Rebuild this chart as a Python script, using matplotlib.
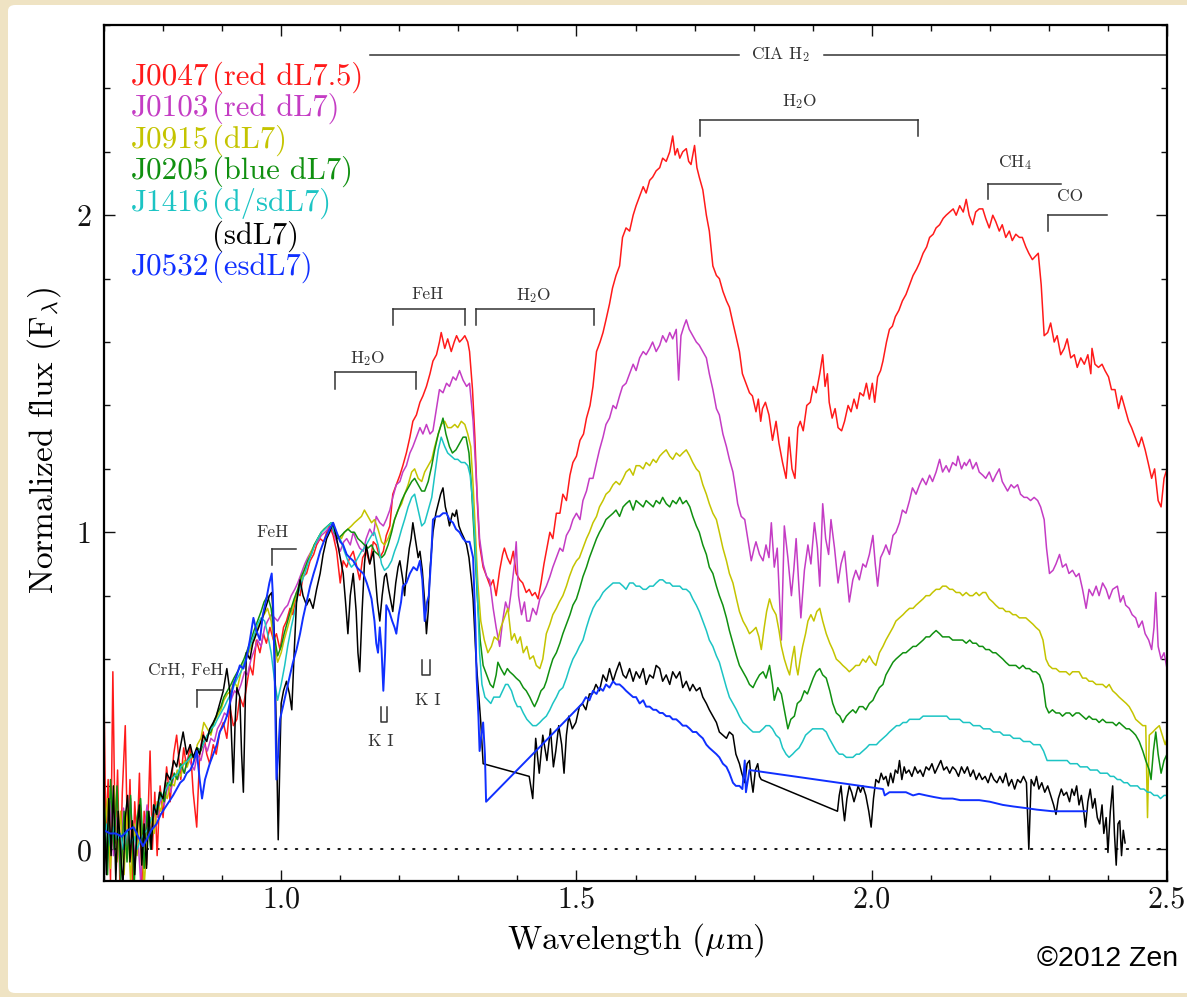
import matplotlib
matplotlib.use("Agg")
import matplotlib.pyplot as plt
from matplotlib.ticker import MultipleLocator, FixedLocator, FixedFormatter
from matplotlib.patches import FancyBboxPatch

plt.rcParams['font.family'] = 'serif'
plt.rcParams['font.serif'] = ['cmr10', 'DejaVu Serif']
plt.rcParams['mathtext.fontset'] = 'cm'
plt.rcParams['axes.unicode_minus'] = False
plt.rcParams['axes.formatter.use_mathtext'] = True

# ---------------- data (wavelength um, normalized flux) ----------------
j0047 = [(0.700,0.49),(0.703,0.05),(0.707,0.22),(0.711,-0.10),(0.715,0.56),(0.719,0.02),(0.723,0.25),(0.727,-0.12),
(0.731,0.18),(0.736,0.39),(0.740,0.00),(0.744,0.22),(0.748,-0.10),(0.752,0.15),(0.756,0.03),(0.760,0.24),(0.764,-0.12),
(0.768,0.12),(0.772,-0.05),(0.778,0.31),(0.782,0.00),(0.786,0.18),(0.790,-0.02),(0.795,0.20),(0.800,0.10),
(0.806,0.26),(0.812,0.15),(0.818,0.30),(0.823,0.36),(0.830,0.22),(0.835,0.32),
(0.840,0.26),(0.846,0.33),(0.851,0.18),(0.857,0.07),(0.862,0.30),(0.868,0.37),(0.874,0.30),(0.879,0.27),(0.885,0.33),
(0.890,0.30),(0.896,0.37),(0.902,0.40),(0.908,0.35),(0.913,0.45),(0.919,0.39),(0.925,0.41),(0.930,0.48),(0.936,0.45),
(0.941,0.51),(0.947,0.58),(0.952,0.55),(0.958,0.66),(0.964,0.62),(0.970,0.68),(0.975,0.65),(0.981,0.70),(0.987,0.66),
(0.992,0.68),(0.998,0.63),(1.004,0.70),(1.009,0.72),(1.015,0.76),(1.020,0.74),(1.026,0.81),(1.032,0.80),(1.037,0.86),
(1.043,0.87),(1.049,0.91),(1.055,0.93),(1.060,0.96),(1.066,0.98),(1.072,0.97),(1.077,1.00),(1.082,1.02),(1.088,0.99),
(1.094,0.94),(1.100,0.84),(1.105,0.91),(1.111,0.89),(1.116,0.92),(1.122,0.94),(1.127,0.90),(1.133,0.85),(1.138,0.92),
(1.144,0.94),(1.150,0.90),(1.156,0.97),(1.161,0.96),(1.167,0.92),(1.173,0.94),(1.178,0.99),(1.184,1.02),(1.189,1.12),
(1.195,1.15),(1.201,1.18),(1.206,1.21),(1.212,1.25),(1.218,1.30),(1.223,1.35),(1.229,1.37),(1.235,1.41),(1.240,1.43),
(1.246,1.46),(1.252,1.50),(1.257,1.54),(1.263,1.56),(1.268,1.60),(1.271,1.63),(1.277,1.58),(1.282,1.61),(1.288,1.57),
(1.293,1.60),(1.297,1.62),(1.302,1.60),(1.307,1.61),(1.311,1.62),(1.316,1.60),(1.319,1.57),(1.324,1.45),(1.328,1.30),
(1.332,1.10),(1.336,0.96),(1.342,0.89),(1.348,0.86),(1.354,0.83),(1.359,0.85),(1.364,0.80),(1.370,0.88),(1.375,0.93),
(1.378,0.95),(1.383,0.92),(1.388,0.90),(1.393,0.94),(1.398,0.87),(1.404,0.85),(1.409,0.84),(1.415,0.81),(1.420,0.82),
(1.425,0.80),(1.430,0.81),(1.435,0.79),(1.440,0.84),(1.445,0.90),(1.450,0.95),(1.455,1.00),(1.460,0.98),(1.466,1.06),
(1.472,1.06),(1.477,1.12),(1.483,1.10),(1.489,1.18),(1.494,1.22),(1.500,1.24),(1.506,1.29),(1.512,1.31),(1.517,1.36),
(1.523,1.40),(1.528,1.46),(1.534,1.57),(1.540,1.60),(1.545,1.63),(1.550,1.67),(1.556,1.72),(1.561,1.77),(1.567,1.81),
(1.573,1.84),(1.578,1.93),(1.584,1.96),(1.590,1.95),(1.596,2.00),(1.601,2.03),(1.607,2.06),(1.613,2.09),(1.618,2.07),
(1.624,2.11),(1.629,2.12),(1.635,2.14),(1.641,2.15),(1.646,2.18),(1.652,2.17),(1.658,2.20),(1.663,2.25),(1.667,2.19),
(1.671,2.21),(1.675,2.18),(1.680,2.20),(1.686,2.21),(1.690,2.17),(1.694,2.16),(1.700,2.22),(1.704,2.15),(1.708,2.12),
(1.714,2.08),(1.720,2.00),(1.725,1.95),(1.731,1.84),(1.737,1.81),(1.742,1.80),(1.748,1.76),(1.754,1.73),(1.759,1.71),
(1.765,1.66),(1.770,1.62),(1.776,1.57),(1.781,1.50),(1.787,1.47),(1.793,1.44),(1.798,1.43),(1.804,1.38),(1.808,1.42),
(1.812,1.35),(1.815,1.39),(1.820,1.41),(1.826,1.37),(1.832,1.29),(1.838,1.35),(1.843,1.28),(1.849,1.22),(1.855,1.17),
(1.860,1.30),(1.865,1.20),(1.870,1.17),(1.875,1.33),(1.879,1.35),(1.884,1.32),(1.890,1.40),(1.896,1.41),(1.901,1.46),
(1.906,1.44),(1.912,1.50),(1.917,1.56),(1.921,1.46),(1.925,1.50),(1.928,1.41),(1.933,1.36),(1.938,1.39),(1.943,1.33),
(1.949,1.32),(1.954,1.35),(1.960,1.40),(1.965,1.38),(1.970,1.42),(1.975,1.39),(1.980,1.44),(1.986,1.43),(1.991,1.47),
(1.996,1.42),(2.001,1.47),(2.005,1.41),(2.010,1.49),(2.015,1.51),(2.019,1.54),(2.025,1.60),(2.030,1.64),(2.035,1.65),
(2.040,1.68),(2.046,1.70),(2.052,1.73),(2.058,1.75),(2.064,1.78),(2.070,1.81),(2.076,1.83),(2.081,1.85),(2.087,1.88),
(2.093,1.90),(2.098,1.93),(2.104,1.94),(2.109,1.96),(2.115,1.97),(2.121,1.99),(2.126,2.00),(2.132,2.01),(2.138,2.02),
(2.143,2.00),(2.149,2.03),(2.155,2.01),(2.160,2.05),(2.165,2.00),(2.171,1.97),(2.176,2.01),(2.182,2.02),(2.188,2.02),
(2.193,1.99),(2.199,1.96),(2.205,2.00),(2.210,1.98),(2.216,1.95),(2.221,1.97),(2.227,1.93),(2.233,1.95),(2.238,1.92),
(2.244,1.94),(2.250,1.93),(2.255,1.93),(2.261,1.90),(2.266,1.88),(2.272,1.86),(2.277,1.87),(2.282,1.88),(2.287,1.78),
(2.292,1.62),(2.298,1.63),(2.303,1.66),(2.309,1.60),(2.314,1.62),(2.320,1.56),(2.326,1.58),(2.331,1.61),(2.337,1.55),
(2.343,1.56),(2.348,1.52),(2.354,1.55),(2.360,1.53),(2.366,1.56),(2.371,1.50),(2.373,1.58),(2.378,1.53),(2.384,1.52),
(2.390,1.53),(2.395,1.51),(2.401,1.49),(2.406,1.45),(2.412,1.45),(2.418,1.39),(2.423,1.43),(2.429,1.39),(2.435,1.35),
(2.440,1.33),(2.446,1.30),(2.452,1.27),(2.457,1.30),(2.463,1.26),(2.468,1.22),(2.474,1.17),(2.479,1.20),(2.485,1.10),
(2.490,1.08),(2.495,1.17),(2.500,1.20)]

j0103 = [(0.700,0.12),(0.705,-0.06),(0.711,0.15),(0.716,-0.02),(0.722,0.10),(0.728,-0.08),(0.733,0.13),(0.739,0.01),
(0.745,0.16),(0.750,-0.05),(0.756,0.08),(0.762,-0.10),(0.768,0.06),(0.773,0.14),(0.779,0.02),(0.785,0.13),(0.790,0.10),
(0.796,0.16),(0.802,0.14),(0.808,0.20),(0.813,0.18),(0.819,0.24),(0.825,0.22),(0.830,0.26),(0.836,0.24),(0.842,0.29),
(0.847,0.27),(0.853,0.25),(0.858,0.30),(0.864,0.28),(0.870,0.33),(0.875,0.31),(0.881,0.35),(0.887,0.34),(0.892,0.38),
(0.898,0.40),(0.904,0.43),(0.909,0.42),(0.915,0.47),(0.921,0.50),(0.926,0.49),(0.932,0.52),(0.938,0.56),(0.943,0.55),
(0.949,0.60),(0.955,0.63),(0.960,0.66),(0.966,0.64),(0.972,0.70),(0.977,0.72),(0.983,0.74),(0.989,0.73),(0.994,0.72),
(1.000,0.74),(1.006,0.76),(1.011,0.77),(1.017,0.80),(1.023,0.82),(1.028,0.84),(1.034,0.87),(1.040,0.90),(1.045,0.92),
(1.051,0.94),(1.057,0.96),(1.062,0.97),(1.068,0.99),(1.074,1.00),(1.079,1.01),(1.085,1.02),(1.090,0.99),(1.096,0.96),
(1.100,0.94),(1.106,0.97),(1.111,0.98),(1.117,0.96),(1.122,1.00),(1.128,0.97),(1.133,0.95),(1.139,0.94),(1.144,0.98),
(1.150,1.01),(1.156,0.99),(1.161,1.05),(1.167,1.03),(1.173,1.02),(1.178,1.04),(1.184,1.07),(1.189,1.11),(1.195,1.15),
(1.201,1.16),(1.206,1.19),(1.212,1.21),(1.218,1.25),(1.223,1.27),(1.229,1.30),(1.235,1.33),(1.240,1.31),(1.246,1.34),
(1.252,1.31),(1.257,1.32),(1.263,1.39),(1.268,1.45),(1.274,1.44),(1.280,1.47),(1.285,1.46),(1.291,1.49),(1.296,1.48),
(1.302,1.51),(1.308,1.48),(1.314,1.46),(1.319,1.47),(1.325,1.35),(1.331,1.15),(1.336,0.98),(1.342,0.90),(1.348,0.86),
(1.353,0.85),(1.359,0.76),(1.364,0.70),(1.370,0.64),(1.375,0.72),(1.380,0.78),(1.385,0.75),(1.390,0.82),(1.395,0.90),
(1.398,0.97),(1.402,0.80),(1.407,0.74),(1.412,0.78),(1.416,0.72),(1.421,0.72),(1.426,0.76),(1.432,0.74),(1.438,0.79),
(1.444,0.81),(1.449,0.83),(1.455,0.86),(1.460,0.89),(1.466,0.92),(1.472,0.95),(1.477,0.94),(1.483,0.99),(1.489,1.01),
(1.494,1.04),(1.500,1.06),(1.506,1.04),(1.511,1.10),(1.517,1.13),(1.522,1.17),(1.528,1.17),(1.534,1.22),(1.539,1.26),
(1.545,1.30),(1.550,1.34),(1.556,1.36),(1.562,1.40),(1.567,1.39),(1.573,1.43),(1.578,1.46),(1.584,1.47),(1.590,1.50),
(1.596,1.53),(1.601,1.51),(1.607,1.55),(1.613,1.57),(1.618,1.56),(1.624,1.58),(1.629,1.60),(1.635,1.57),(1.641,1.59),
(1.646,1.62),(1.652,1.60),(1.658,1.63),(1.663,1.61),(1.669,1.64),(1.673,1.48),(1.677,1.62),(1.682,1.65),(1.686,1.67),
(1.691,1.64),(1.697,1.62),(1.703,1.60),(1.708,1.59),(1.714,1.57),(1.720,1.55),(1.725,1.50),(1.731,1.45),(1.737,1.39),
(1.742,1.37),(1.748,1.31),(1.754,1.27),(1.759,1.23),(1.765,1.19),(1.770,1.13),(1.773,1.09),(1.779,1.05),(1.785,1.04),
(1.790,0.98),(1.796,0.91),(1.801,0.95),(1.804,0.97),(1.810,0.93),(1.816,0.91),(1.821,0.96),(1.826,0.92),(1.830,1.03),
(1.835,0.89),(1.840,0.95),(1.844,0.78),(1.847,0.66),(1.852,1.02),(1.858,0.92),(1.864,0.80),(1.868,0.88),(1.872,0.98),
(1.876,0.85),(1.880,0.73),(1.886,0.88),(1.892,0.96),(1.897,0.90),(1.903,1.03),(1.908,0.95),(1.912,0.83),(1.917,1.09),
(1.922,0.98),(1.927,0.93),(1.931,1.04),(1.937,0.95),(1.943,0.84),(1.948,0.90),(1.954,0.94),(1.958,0.86),(1.962,0.78),
(1.968,0.85),(1.973,0.88),(1.979,0.85),(1.985,0.90),(1.990,0.89),(1.996,0.93),(2.002,0.99),(2.006,0.90),(2.010,0.83),
(2.015,0.92),(2.020,0.94),(2.024,0.96),(2.030,0.93),(2.036,0.99),(2.041,1.00),(2.047,1.03),(2.052,1.07),(2.058,1.06),
(2.064,1.10),(2.069,1.14),(2.075,1.12),(2.081,1.15),(2.086,1.17),(2.092,1.15),(2.098,1.18),(2.103,1.16),(2.109,1.19),
(2.115,1.23),(2.120,1.19),(2.126,1.21),(2.131,1.19),(2.137,1.22),(2.143,1.21),(2.146,1.24),(2.152,1.20),(2.157,1.22),
(2.160,1.21),(2.166,1.23),(2.171,1.20),(2.177,1.22),(2.182,1.19),(2.188,1.18),(2.193,1.17),(2.199,1.19),(2.205,1.16),
(2.210,1.18),(2.216,1.20),(2.221,1.16),(2.227,1.14),(2.230,1.13),(2.236,1.15),(2.241,1.14),(2.247,1.15),(2.252,1.12),
(2.258,1.11),(2.263,1.11),(2.269,1.10),(2.275,1.11),(2.281,1.10),(2.286,1.08),(2.292,1.04),(2.296,0.95),(2.301,0.87),
(2.307,0.88),(2.312,0.90),(2.318,0.93),(2.323,0.89),(2.329,0.90),(2.334,0.87),(2.340,0.88),(2.346,0.86),(2.351,0.87),
(2.357,0.82),(2.363,0.76),(2.368,0.82),(2.374,0.80),(2.380,0.83),(2.385,0.80),(2.391,0.84),(2.397,0.82),(2.402,0.79),
(2.408,0.82),(2.416,0.83),(2.421,0.78),(2.426,0.80),(2.430,0.77),(2.436,0.76),(2.441,0.74),(2.447,0.73),(2.452,0.70),
(2.458,0.72),(2.463,0.68),(2.469,0.66),(2.474,0.63),(2.478,0.70),(2.481,0.81),(2.485,0.64),(2.490,0.60),(2.495,0.62),
(2.500,0.57)]

j0915 = [(0.700,0.02),(0.706,0.16),(0.711,-0.06),(0.717,0.20),(0.722,-0.04),(0.728,0.12),(0.734,-0.08),(0.739,0.14),
(0.745,-0.10),(0.751,0.08),(0.756,-0.02),(0.762,0.13),(0.768,-0.12),(0.773,0.04),(0.779,0.10),(0.785,0.05),(0.790,0.15),
(0.796,0.12),(0.802,0.18),(0.807,0.16),(0.813,0.21),(0.819,0.20),(0.824,0.25),(0.830,0.23),(0.836,0.28),(0.841,0.26),
(0.847,0.30),(0.853,0.28),(0.858,0.33),(0.864,0.35),(0.869,0.40),(0.875,0.38),(0.881,0.36),(0.886,0.40),(0.892,0.42),
(0.898,0.44),(0.903,0.47),(0.909,0.49),(0.915,0.50),(0.920,0.53),(0.926,0.51),(0.932,0.56),(0.937,0.59),(0.943,0.61),
(0.949,0.64),(0.954,0.66),(0.960,0.70),(0.966,0.72),(0.971,0.74),(0.977,0.76),(0.983,0.72),(0.988,0.65),(0.994,0.59),
(1.000,0.62),(1.005,0.66),(1.011,0.70),(1.017,0.74),(1.022,0.78),(1.028,0.81),(1.034,0.85),(1.039,0.88),(1.045,0.91),
(1.051,0.94),(1.056,0.96),(1.062,0.98),(1.068,1.00),(1.073,1.01),(1.079,1.02),(1.085,1.03),(1.090,1.01),(1.096,0.99),
(1.102,0.98),(1.107,1.00),(1.113,1.01),(1.119,1.02),(1.124,1.03),(1.130,1.04),(1.136,1.05),(1.141,1.07),(1.147,1.05),
(1.153,1.03),(1.158,1.04),(1.164,1.01),(1.170,0.97),(1.175,0.96),(1.181,0.98),(1.187,1.01),(1.192,1.04),(1.198,1.07),
(1.204,1.09),(1.209,1.12),(1.215,1.15),(1.221,1.19),(1.226,1.20),(1.232,1.17),(1.238,1.16),(1.243,1.19),(1.249,1.21),
(1.255,1.23),(1.260,1.27),(1.266,1.31),(1.271,1.34),(1.277,1.35),(1.282,1.33),(1.288,1.33),(1.294,1.34),(1.299,1.33),
(1.305,1.35),(1.311,1.34),(1.316,1.31),(1.321,1.27),(1.325,1.15),(1.329,1.00),(1.333,0.84),(1.338,0.72),(1.344,0.66),
(1.350,0.62),(1.356,0.64),(1.361,0.67),(1.367,0.66),(1.372,0.70),(1.378,0.73),(1.384,0.76),(1.387,0.71),(1.390,0.66),
(1.395,0.68),(1.400,0.65),(1.405,0.67),(1.410,0.62),(1.416,0.64),(1.421,0.60),(1.427,0.61),(1.432,0.58),(1.438,0.57),
(1.443,0.60),(1.449,0.68),(1.455,0.71),(1.460,0.74),(1.466,0.76),(1.471,0.78),(1.477,0.80),(1.483,0.83),(1.488,0.86),
(1.494,0.89),(1.500,0.91),(1.505,0.92),(1.511,0.95),(1.517,0.98),(1.522,1.00),(1.528,1.03),(1.534,1.05),(1.539,1.08),
(1.545,1.10),(1.550,1.12),(1.556,1.13),(1.562,1.15),(1.567,1.16),(1.573,1.15),(1.579,1.17),(1.584,1.19),(1.590,1.20),
(1.596,1.18),(1.601,1.21),(1.607,1.21),(1.613,1.20),(1.618,1.22),(1.624,1.21),(1.630,1.23),(1.635,1.22),(1.641,1.24),
(1.646,1.25),(1.652,1.26),(1.658,1.24),(1.663,1.23),(1.669,1.25),(1.675,1.24),(1.680,1.25),(1.686,1.26),(1.692,1.24),
(1.697,1.22),(1.703,1.20),(1.708,1.19),(1.714,1.15),(1.720,1.12),(1.725,1.09),(1.731,1.06),(1.737,1.04),(1.742,1.00),
(1.748,0.95),(1.754,0.91),(1.759,0.87),(1.765,0.84),(1.771,0.79),(1.776,0.75),(1.782,0.72),(1.788,0.70),(1.793,0.68),
(1.799,0.69),(1.804,0.70),(1.809,0.67),(1.813,0.63),(1.818,0.70),(1.822,0.75),(1.827,0.79),(1.832,0.76),(1.838,0.74),
(1.843,0.69),(1.847,0.64),(1.852,0.60),(1.857,0.57),(1.861,0.55),(1.865,0.60),(1.869,0.64),(1.872,0.58),(1.875,0.55),
(1.879,0.60),(1.883,0.64),(1.888,0.68),(1.892,0.72),(1.897,0.74),(1.902,0.72),(1.907,0.75),(1.912,0.76),(1.917,0.72),
(1.923,0.68),(1.929,0.65),(1.934,0.63),(1.940,0.60),(1.946,0.59),(1.951,0.58),(1.957,0.57),(1.962,0.56),(1.968,0.57),
(1.973,0.58),(1.979,0.58),(1.985,0.60),(1.990,0.59),(1.996,0.61),(2.002,0.59),(2.007,0.58),(2.013,0.62),(2.019,0.64),
(2.024,0.66),(2.030,0.68),(2.036,0.70),(2.041,0.72),(2.047,0.73),(2.053,0.74),(2.058,0.75),(2.064,0.76),(2.070,0.76),
(2.075,0.77),(2.081,0.78),(2.087,0.79),(2.092,0.80),(2.098,0.80),(2.103,0.81),(2.109,0.82),(2.115,0.82),(2.120,0.83),
(2.126,0.83),(2.132,0.82),(2.137,0.82),(2.143,0.81),(2.149,0.81),(2.154,0.80),(2.160,0.81),(2.166,0.80),(2.171,0.80),
(2.177,0.81),(2.182,0.80),(2.188,0.81),(2.193,0.81),(2.199,0.79),(2.205,0.78),(2.210,0.77),(2.216,0.76),(2.222,0.76),
(2.227,0.75),(2.233,0.75),(2.239,0.74),(2.244,0.74),(2.250,0.73),(2.256,0.73),(2.261,0.73),(2.267,0.72),(2.273,0.71),
(2.278,0.70),(2.284,0.69),(2.290,0.66),(2.295,0.60),(2.300,0.58),(2.306,0.57),(2.312,0.57),(2.318,0.56),(2.323,0.56),
(2.329,0.56),(2.335,0.55),(2.340,0.56),(2.346,0.56),(2.351,0.56),(2.357,0.54),(2.363,0.54),(2.368,0.53),(2.374,0.53),
(2.380,0.52),(2.385,0.52),(2.391,0.52),(2.397,0.51),(2.402,0.52),(2.408,0.50),(2.414,0.49),(2.419,0.48),(2.425,0.47),
(2.431,0.46),(2.436,0.45),(2.442,0.43),(2.447,0.41),(2.453,0.40),(2.459,0.39),(2.464,0.39),(2.467,0.10),(2.470,0.36),
(2.476,0.37),(2.481,0.38),(2.487,0.39),(2.492,0.36),(2.497,0.33),(2.500,0.35)]

j0205 = [(0.700,0.18),(0.706,-0.08),(0.711,0.22),(0.717,0.00),(0.722,0.20),(0.728,-0.10),(0.734,0.12),(0.739,-0.04),
(0.745,0.17),(0.751,-0.12),(0.756,0.10),(0.762,0.16),(0.768,-0.06),(0.773,0.12),(0.779,0.00),(0.785,0.14),(0.790,0.11),
(0.796,0.18),(0.802,0.15),(0.807,0.21),(0.813,0.20),(0.819,0.24),(0.824,0.22),(0.830,0.27),(0.836,0.24),(0.841,0.28),
(0.847,0.30),(0.853,0.29),(0.858,0.32),(0.864,0.31),(0.869,0.34),(0.875,0.36),(0.881,0.37),(0.886,0.40),(0.892,0.43),
(0.898,0.45),(0.903,0.48),(0.909,0.50),(0.915,0.52),(0.920,0.54),(0.926,0.56),(0.932,0.58),(0.937,0.60),(0.943,0.63),
(0.949,0.66),(0.954,0.69),(0.960,0.72),(0.966,0.75),(0.971,0.78),(0.977,0.80),(0.983,0.76),(0.988,0.68),(0.994,0.61),
(1.000,0.64),(1.005,0.68),(1.011,0.72),(1.017,0.76),(1.022,0.79),(1.028,0.82),(1.034,0.86),(1.039,0.88),(1.045,0.91),
(1.051,0.93),(1.056,0.96),(1.062,0.98),(1.068,1.00),(1.073,1.01),(1.079,1.02),(1.085,1.03),(1.090,1.00),(1.096,0.98),
(1.102,0.99),(1.107,1.00),(1.113,1.01),(1.119,1.00),(1.124,1.00),(1.130,0.98),(1.136,0.97),(1.141,0.96),(1.147,0.95),
(1.153,0.96),(1.158,0.94),(1.164,0.93),(1.170,0.92),(1.175,0.93),(1.181,0.96),(1.187,1.00),(1.192,1.04),(1.198,1.07),
(1.204,1.10),(1.209,1.12),(1.215,1.14),(1.221,1.16),(1.226,1.17),(1.232,1.15),(1.238,1.13),(1.243,1.13),(1.249,1.16),
(1.255,1.21),(1.260,1.26),(1.266,1.31),(1.271,1.34),(1.274,1.36),(1.279,1.31),(1.285,1.27),(1.290,1.25),(1.296,1.26),
(1.302,1.28),(1.308,1.30),(1.313,1.30),(1.318,1.25),(1.322,1.15),(1.327,0.98),(1.332,0.80),(1.337,0.66),(1.342,0.58),
(1.348,0.55),(1.354,0.52),(1.359,0.51),(1.364,0.55),(1.367,0.59),(1.372,0.57),(1.378,0.55),(1.383,0.57),(1.387,0.56),
(1.393,0.55),(1.398,0.54),(1.404,0.53),(1.410,0.51),(1.415,0.50),(1.421,0.48),(1.426,0.46),(1.429,0.45),(1.434,0.47),
(1.440,0.50),(1.445,0.51),(1.449,0.53),(1.455,0.57),(1.460,0.60),(1.466,0.62),(1.472,0.65),(1.477,0.68),(1.483,0.71),
(1.489,0.74),(1.494,0.77),(1.500,0.79),(1.505,0.82),(1.511,0.86),(1.517,0.89),(1.522,0.92),(1.528,0.95),(1.534,0.98),
(1.539,1.00),(1.545,1.02),(1.550,1.04),(1.556,1.05),(1.562,1.06),(1.567,1.07),(1.573,1.05),(1.579,1.08),(1.584,1.09),
(1.590,1.10),(1.596,1.07),(1.601,1.10),(1.607,1.09),(1.613,1.08),(1.618,1.10),(1.624,1.09),(1.630,1.08),(1.635,1.10),
(1.641,1.09),(1.646,1.11),(1.652,1.09),(1.658,1.08),(1.663,1.10),(1.669,1.09),(1.675,1.11),(1.680,1.09),(1.686,1.10),
(1.692,1.08),(1.697,1.05),(1.703,1.02),(1.708,1.00),(1.714,0.96),(1.720,0.93),(1.725,0.89),(1.731,0.87),(1.737,0.83),
(1.742,0.80),(1.748,0.77),(1.754,0.73),(1.759,0.69),(1.765,0.65),(1.771,0.61),(1.776,0.58),(1.782,0.56),(1.788,0.54),
(1.793,0.52),(1.799,0.51),(1.804,0.53),(1.810,0.55),(1.816,0.56),(1.821,0.54),(1.827,0.58),(1.832,0.52),(1.835,0.47),
(1.841,0.51),(1.847,0.49),(1.852,0.44),(1.858,0.38),(1.863,0.41),(1.869,0.42),(1.874,0.46),(1.880,0.47),(1.886,0.50),
(1.891,0.49),(1.895,0.51),(1.901,0.54),(1.906,0.56),(1.912,0.57),(1.917,0.55),(1.923,0.54),(1.929,0.50),(1.934,0.46),
(1.940,0.43),(1.946,0.42),(1.951,0.40),(1.957,0.42),(1.962,0.43),(1.968,0.44),(1.973,0.43),(1.979,0.45),(1.985,0.45),
(1.990,0.44),(1.996,0.46),(2.002,0.47),(2.007,0.49),(2.013,0.51),(2.019,0.52),(2.024,0.55),(2.030,0.57),(2.036,0.59),
(2.041,0.60),(2.047,0.61),(2.053,0.62),(2.058,0.62),(2.064,0.63),(2.070,0.64),(2.075,0.64),(2.081,0.65),(2.087,0.66),
(2.092,0.67),(2.098,0.67),(2.103,0.68),(2.109,0.69),(2.115,0.68),(2.120,0.67),(2.126,0.67),(2.131,0.67),(2.137,0.66),
(2.143,0.66),(2.149,0.66),(2.154,0.66),(2.160,0.65),(2.166,0.66),(2.171,0.65),(2.177,0.65),(2.182,0.64),(2.188,0.64),
(2.193,0.63),(2.199,0.63),(2.205,0.62),(2.210,0.62),(2.216,0.61),(2.222,0.60),(2.227,0.59),(2.233,0.58),(2.239,0.58),
(2.244,0.58),(2.250,0.57),(2.256,0.58),(2.261,0.57),(2.267,0.57),(2.273,0.56),(2.278,0.56),(2.284,0.55),(2.290,0.52),
(2.295,0.45),(2.300,0.43),(2.306,0.44),(2.312,0.43),(2.318,0.43),(2.323,0.42),(2.329,0.43),(2.335,0.43),(2.340,0.42),
(2.346,0.43),(2.351,0.43),(2.357,0.42),(2.363,0.41),(2.368,0.42),(2.374,0.41),(2.380,0.41),(2.385,0.40),(2.391,0.41),
(2.397,0.40),(2.402,0.40),(2.408,0.40),(2.414,0.39),(2.419,0.40),(2.425,0.39),(2.431,0.38),(2.436,0.38),(2.442,0.37),
(2.447,0.36),(2.453,0.34),(2.459,0.31),(2.464,0.28),(2.470,0.25),(2.473,0.22),(2.477,0.31),(2.481,0.37),(2.485,0.30),
(2.490,0.24),(2.495,0.28),(2.500,0.30)]

j1416 = [(0.700,0.03),(0.705,0.08),(0.711,0.01),(0.716,0.07),(0.722,0.03),(0.728,0.05),(0.733,0.00),(0.739,0.06),
(0.745,0.02),(0.751,0.04),(0.756,0.00),(0.762,0.03),(0.768,0.05),(0.773,0.06),(0.779,0.09),(0.785,0.12),(0.790,0.14),
(0.796,0.16),(0.802,0.18),(0.808,0.20),(0.813,0.22),(0.819,0.23),(0.825,0.24),(0.830,0.26),(0.836,0.27),(0.842,0.28),
(0.847,0.29),(0.853,0.30),(0.858,0.30),(0.864,0.32),(0.870,0.34),(0.875,0.36),(0.881,0.38),(0.887,0.39),(0.892,0.41),
(0.898,0.43),(0.904,0.45),(0.909,0.47),(0.915,0.49),(0.921,0.52),(0.926,0.54),(0.932,0.56),(0.938,0.59),(0.943,0.62),
(0.949,0.65),(0.955,0.68),(0.960,0.71),(0.966,0.73),(0.972,0.72),(0.977,0.68),(0.983,0.62),(0.989,0.53),(0.994,0.47),
(1.000,0.52),(1.006,0.58),(1.011,0.64),(1.017,0.70),(1.023,0.75),(1.028,0.80),(1.034,0.84),(1.040,0.87),(1.045,0.90),
(1.051,0.93),(1.057,0.96),(1.062,0.98),(1.068,1.00),(1.074,1.01),(1.079,1.02),(1.085,1.03),(1.090,1.00),(1.096,0.99),
(1.102,0.97),(1.107,0.94),(1.113,0.91),(1.119,0.89),(1.124,0.90),(1.130,0.92),(1.136,0.94),(1.141,0.95),(1.147,0.97),
(1.153,0.99),(1.158,1.00),(1.164,0.96),(1.170,0.90),(1.175,0.88),(1.181,0.89),(1.187,0.91),(1.192,0.94),(1.198,0.97),
(1.204,1.01),(1.209,1.04),(1.215,1.08),(1.221,1.11),(1.226,1.12),(1.232,1.07),(1.238,1.02),(1.243,1.03),(1.249,1.07),
(1.255,1.11),(1.260,1.18),(1.266,1.26),(1.271,1.30),(1.277,1.27),(1.282,1.25),(1.288,1.24),(1.294,1.23),(1.299,1.23),
(1.305,1.22),(1.311,1.22),(1.316,1.21),(1.320,1.18),(1.324,1.10),(1.328,0.98),(1.332,0.82),(1.336,0.62),(1.340,0.52),
(1.345,0.48),(1.350,0.47),(1.355,0.46),(1.360,0.48),(1.365,0.48),(1.370,0.48),(1.375,0.50),(1.380,0.52),(1.384,0.52),
(1.390,0.50),(1.395,0.47),(1.400,0.45),(1.405,0.45),(1.410,0.43),(1.416,0.41),(1.421,0.40),(1.426,0.39),(1.432,0.39),
(1.438,0.40),(1.443,0.41),(1.449,0.42),(1.455,0.44),(1.460,0.46),(1.466,0.48),(1.471,0.50),(1.477,0.51),(1.483,0.54),
(1.488,0.57),(1.494,0.60),(1.500,0.62),(1.505,0.64),(1.511,0.66),(1.517,0.70),(1.522,0.73),(1.528,0.76),(1.534,0.78),
(1.539,0.79),(1.545,0.81),(1.550,0.82),(1.556,0.83),(1.562,0.84),(1.567,0.84),(1.573,0.84),(1.579,0.83),(1.584,0.82),
(1.590,0.84),(1.596,0.84),(1.601,0.83),(1.607,0.83),(1.613,0.82),(1.618,0.82),(1.624,0.83),(1.630,0.83),(1.635,0.84),
(1.641,0.85),(1.646,0.85),(1.652,0.84),(1.658,0.84),(1.663,0.83),(1.669,0.83),(1.675,0.83),(1.680,0.82),(1.686,0.82),
(1.692,0.81),(1.697,0.79),(1.703,0.77),(1.708,0.75),(1.714,0.72),(1.720,0.69),(1.725,0.66),(1.731,0.64),(1.737,0.61),
(1.742,0.59),(1.748,0.55),(1.754,0.51),(1.759,0.48),(1.765,0.46),(1.771,0.44),(1.776,0.42),(1.782,0.40),(1.788,0.39),
(1.793,0.38),(1.799,0.37),(1.804,0.37),(1.810,0.37),(1.816,0.38),(1.821,0.39),(1.827,0.39),(1.832,0.38),(1.838,0.36),
(1.844,0.35),(1.849,0.32),(1.855,0.30),(1.860,0.29),(1.866,0.30),(1.871,0.31),(1.877,0.32),(1.883,0.34),(1.888,0.36),
(1.894,0.37),(1.900,0.38),(1.906,0.38),(1.911,0.38),(1.917,0.38),(1.923,0.37),(1.928,0.35),(1.934,0.33),(1.940,0.31),
(1.945,0.30),(1.951,0.30),(1.957,0.29),(1.962,0.29),(1.968,0.29),(1.974,0.30),(1.979,0.30),(1.985,0.31),(1.991,0.32),
(1.996,0.33),(2.002,0.33),(2.008,0.33),(2.013,0.34),(2.019,0.35),(2.025,0.36),(2.030,0.37),(2.036,0.38),(2.042,0.39),
(2.047,0.39),(2.053,0.40),(2.059,0.40),(2.064,0.41),(2.070,0.41),(2.076,0.41),(2.081,0.41),(2.087,0.42),(2.093,0.42),
(2.098,0.42),(2.104,0.42),(2.110,0.42),(2.115,0.42),(2.121,0.42),(2.127,0.42),(2.132,0.41),(2.138,0.41),(2.144,0.41),
(2.149,0.41),(2.155,0.40),(2.161,0.40),(2.166,0.40),(2.172,0.39),(2.178,0.39),(2.183,0.39),(2.189,0.38),(2.195,0.38),
(2.200,0.38),(2.206,0.37),(2.212,0.37),(2.217,0.37),(2.223,0.36),(2.229,0.36),(2.234,0.36),(2.240,0.35),(2.246,0.35),
(2.251,0.35),(2.257,0.34),(2.263,0.34),(2.268,0.34),(2.274,0.33),(2.280,0.33),(2.285,0.33),(2.291,0.31),(2.297,0.28),
(2.302,0.28),(2.308,0.28),(2.314,0.28),(2.319,0.28),(2.325,0.28),(2.331,0.28),(2.336,0.27),(2.342,0.27),(2.348,0.27),
(2.353,0.26),(2.359,0.26),(2.365,0.26),(2.370,0.25),(2.376,0.25),(2.382,0.25),(2.387,0.24),(2.393,0.24),(2.399,0.24),
(2.404,0.23),(2.410,0.23),(2.416,0.22),(2.421,0.22),(2.427,0.21),(2.433,0.21),(2.438,0.20),(2.444,0.20),(2.450,0.20),
(2.455,0.19),(2.461,0.19),(2.467,0.18),(2.472,0.18),(2.478,0.17),(2.484,0.17),(2.489,0.16),(2.495,0.17),(2.500,0.17)]

sdl7 = [(0.700,0.14),(0.704,-0.08),(0.708,0.16),(0.712,-0.02),(0.716,0.20),(0.720,-0.10),(0.724,0.12),(0.728,0.00),
(0.732,-0.12),(0.736,0.10),(0.740,0.17),(0.744,-0.04),(0.748,0.09),(0.752,-0.08),(0.756,0.06),(0.760,0.14),(0.764,-0.05),
(0.768,0.08),(0.772,-0.06),(0.776,0.12),(0.780,0.00),(0.784,0.14),(0.789,0.11),(0.794,0.18),(0.800,0.16),(0.806,0.24),
(0.812,0.22),(0.818,0.28),(0.823,0.26),(0.828,0.31),(0.834,0.37),(0.840,0.30),(0.846,0.33),(0.851,0.29),(0.857,0.32),
(0.862,0.30),(0.868,0.36),(0.874,0.34),(0.879,0.38),(0.885,0.40),(0.890,0.42),(0.896,0.46),(0.902,0.50),(0.908,0.57),
(0.913,0.50),(0.916,0.35),(0.919,0.21),(0.922,0.40),(0.925,0.51),(0.930,0.48),(0.933,0.30),(0.936,0.18),(0.939,0.45),
(0.941,0.62),(0.947,0.60),(0.952,0.65),(0.958,0.68),(0.964,0.71),(0.970,0.74),(0.975,0.77),(0.980,0.80),(0.984,0.81),
(0.988,0.70),(0.992,0.35),(0.995,0.03),(0.998,0.30),(1.000,0.46),(1.004,0.50),(1.009,0.53),(1.014,0.49),(1.018,0.44),
(1.022,0.62),(1.026,0.78),(1.032,0.85),(1.037,0.80),(1.043,0.77),(1.048,0.79),(1.054,0.76),(1.060,0.82),(1.066,0.87),
(1.071,0.93),(1.077,0.98),(1.082,1.00),(1.088,1.03),(1.094,0.98),(1.100,0.92),(1.105,0.87),(1.109,0.78),(1.113,0.68),
(1.117,0.80),(1.122,0.87),(1.127,0.75),(1.130,0.62),(1.133,0.56),(1.137,0.75),(1.141,0.90),(1.144,0.96),(1.150,0.90),
(1.156,0.94),(1.160,0.85),(1.163,0.78),(1.167,0.72),(1.171,0.80),(1.175,0.86),(1.178,0.87),(1.182,0.82),(1.186,0.78),
(1.189,0.75),(1.194,0.84),(1.198,0.89),(1.201,0.91),(1.206,0.85),(1.209,0.80),(1.212,0.87),(1.217,0.95),(1.220,0.98),
(1.223,1.03),(1.228,0.97),(1.232,0.92),(1.235,0.94),(1.239,0.88),(1.243,0.78),(1.246,0.68),(1.249,0.75),(1.252,0.88),
(1.257,1.00),(1.262,1.06),(1.266,1.09),(1.270,1.12),(1.274,1.14),(1.278,1.08),(1.282,1.05),(1.285,1.02),(1.290,1.06),
(1.294,1.05),(1.297,1.07),(1.301,1.02),(1.305,1.00),(1.310,0.98),(1.314,0.96),(1.318,0.92),(1.322,0.85),(1.325,0.79),
(1.330,0.60),(1.334,0.50),(1.338,0.40),(1.342,0.27),(1.420,0.23),(1.426,0.16),(1.431,0.35),(1.437,0.24),(1.443,0.36),
(1.450,0.28),(1.456,0.38),(1.461,0.26),(1.465,0.31),(1.470,0.39),(1.475,0.33),(1.479,0.24),(1.483,0.36),(1.487,0.42),
(1.493,0.38),(1.499,0.40),(1.505,0.45),(1.510,0.46),(1.516,0.44),(1.522,0.49),(1.527,0.49),(1.533,0.52),(1.539,0.50),
(1.545,0.55),(1.551,0.53),(1.556,0.57),(1.562,0.53),(1.567,0.56),(1.573,0.59),(1.579,0.55),(1.584,0.54),(1.590,0.57),
(1.596,0.53),(1.601,0.56),(1.607,0.54),(1.613,0.57),(1.618,0.52),(1.624,0.55),(1.630,0.54),(1.635,0.58),(1.641,0.57),
(1.646,0.53),(1.652,0.55),(1.658,0.52),(1.663,0.56),(1.669,0.54),(1.675,0.56),(1.680,0.51),(1.686,0.53),(1.692,0.50),
(1.697,0.52),(1.703,0.50),(1.709,0.51),(1.714,0.48),(1.720,0.46),(1.725,0.44),(1.731,0.42),(1.737,0.40),(1.742,0.37),
(1.748,0.36),(1.754,0.35),(1.759,0.37),(1.765,0.36),(1.770,0.30),(1.776,0.27),(1.780,0.24),(1.785,0.21),(1.789,0.27),
(1.793,0.28),(1.796,0.22),(1.799,0.18),(1.803,0.25),(1.807,0.27),(1.810,0.23),(1.813,0.22),(1.942,0.12),(1.945,0.17),
(1.948,0.20),(1.951,0.14),(1.954,0.09),(1.958,0.16),(1.962,0.20),(1.966,0.18),(1.970,0.15),(1.973,0.17),(1.977,0.20),
(1.981,0.18),(1.985,0.20),(1.990,0.17),(1.995,0.12),(1.999,0.07),(2.003,0.16),(2.007,0.22),(2.012,0.21),(2.016,0.24),
(2.020,0.22),(2.024,0.23),(2.028,0.20),(2.032,0.24),(2.036,0.21),(2.040,0.25),(2.044,0.24),(2.047,0.28),(2.051,0.22),
(2.055,0.26),(2.058,0.24),(2.063,0.25),(2.068,0.23),(2.073,0.26),(2.078,0.24),(2.082,0.25),(2.087,0.23),(2.092,0.26),
(2.097,0.25),(2.102,0.27),(2.107,0.24),(2.112,0.26),(2.117,0.28),(2.122,0.25),(2.127,0.26),(2.132,0.24),(2.137,0.26),
(2.142,0.25),(2.147,0.23),(2.152,0.26),(2.157,0.24),(2.162,0.26),(2.167,0.23),(2.172,0.25),(2.177,0.22),(2.182,0.24),
(2.187,0.22),(2.192,0.23),(2.197,0.21),(2.202,0.24),(2.207,0.22),(2.212,0.21),(2.217,0.23),(2.222,0.21),(2.227,0.24),
(2.232,0.20),(2.237,0.22),(2.242,0.19),(2.247,0.22),(2.252,0.21),(2.257,0.23),(2.262,0.21),(2.266,0.00),(2.270,0.22),
(2.275,0.20),(2.279,0.23),(2.283,0.19),(2.288,0.21),(2.293,0.18),(2.298,0.20),(2.303,0.17),(2.308,0.14),(2.312,0.11),
(2.316,0.16),(2.321,0.19),(2.325,0.17),(2.330,0.18),(2.335,0.15),(2.339,0.19),(2.343,0.17),(2.347,0.20),(2.351,0.14),
(2.355,0.17),(2.359,0.12),(2.362,0.07),(2.366,0.15),(2.370,0.19),(2.374,0.13),(2.378,0.16),(2.382,0.10),(2.386,0.08),
(2.390,0.14),(2.393,0.05),(2.397,0.10),(2.400,-0.01),(2.404,0.12),(2.408,0.20),(2.411,0.05),(2.414,-0.05),(2.417,0.08),
(2.420,0.09),(2.423,-0.02),(2.426,0.06),(2.429,0.02)]

j0532 = [(0.700,0.06),(0.710,0.05),(0.720,0.05),(0.730,0.04),(0.740,0.06),(0.750,0.07),(0.758,0.04),(0.766,0.01),
(0.772,0.03),(0.780,0.06),(0.789,0.08),(0.796,0.11),(0.803,0.13),(0.810,0.15),(0.817,0.17),(0.823,0.19),(0.829,0.21),
(0.835,0.22),(0.840,0.24),(0.846,0.25),(0.851,0.27),(0.857,0.31),(0.862,0.22),(0.866,0.16),(0.871,0.22),(0.879,0.27),
(0.885,0.30),(0.891,0.33),(0.896,0.37),(0.902,0.39),(0.908,0.42),(0.913,0.46),(0.919,0.52),(0.925,0.55),(0.930,0.58),
(0.936,0.57),(0.941,0.60),(0.947,0.66),(0.953,0.73),(0.958,0.69),(0.964,0.66),(0.969,0.74),(0.975,0.79),(0.980,0.84),
(0.984,0.87),(0.986,0.80),(0.989,0.55),(0.992,0.22),(0.995,0.30),(0.998,0.41),(1.003,0.45),(1.009,0.50),(1.015,0.55),
(1.020,0.59),(1.026,0.63),(1.032,0.68),(1.037,0.73),(1.043,0.78),(1.049,0.83),(1.055,0.87),(1.060,0.90),(1.066,0.94),
(1.072,0.97),(1.077,0.99),(1.082,1.01),(1.088,1.03),(1.094,1.00),(1.100,0.97),(1.105,0.96),(1.111,0.93),(1.116,0.92),
(1.122,0.91),(1.128,0.89),(1.133,0.88),(1.139,0.87),(1.145,0.84),(1.150,0.81),(1.153,0.79),(1.158,0.72),(1.161,0.65),
(1.164,0.62),(1.167,0.70),(1.170,0.63),(1.173,0.50),(1.176,0.62),(1.178,0.77),(1.183,0.75),(1.188,0.72),(1.192,0.70),
(1.195,0.68),(1.199,0.74),(1.203,0.78),(1.206,0.83),(1.212,0.84),(1.218,0.87),(1.224,0.89),(1.230,0.88),(1.235,0.91),
(1.239,0.85),(1.243,0.72),(1.247,0.78),(1.250,0.80),(1.254,0.92),(1.257,1.04),(1.263,1.05),(1.268,1.05),(1.274,1.06),
(1.280,1.06),(1.285,1.04),(1.291,1.03),(1.296,1.01),(1.302,1.00),(1.308,0.98),(1.313,0.97),(1.319,0.97),(1.325,0.92),
(1.329,0.70),(1.331,0.54),(1.334,0.42),(1.336,0.31),(1.339,0.36),(1.342,0.40),(1.345,0.30),(1.347,0.15),(1.510,0.46),
(1.516,0.48),(1.522,0.47),(1.528,0.50),(1.534,0.49),(1.539,0.51),(1.545,0.50),(1.550,0.52),(1.556,0.51),(1.562,0.53),
(1.567,0.52),(1.573,0.52),(1.579,0.51),(1.584,0.50),(1.590,0.49),(1.596,0.48),(1.601,0.48),(1.607,0.46),(1.613,0.47),
(1.618,0.45),(1.624,0.45),(1.630,0.44),(1.635,0.44),(1.641,0.43),(1.646,0.43),(1.652,0.42),(1.658,0.42),(1.663,0.41),
(1.669,0.41),(1.675,0.40),(1.680,0.39),(1.686,0.39),(1.692,0.38),(1.697,0.37),(1.703,0.37),(1.708,0.36),(1.714,0.35),
(1.720,0.33),(1.725,0.32),(1.731,0.31),(1.737,0.30),(1.742,0.29),(1.748,0.27),(1.754,0.26),(1.759,0.24),(1.765,0.21),
(1.770,0.20),(1.776,0.20),(1.781,0.19),(1.785,0.28),(1.787,0.18),(1.793,0.25),(2.019,0.19),(2.022,0.17),(2.030,0.18),
(2.040,0.18),(2.050,0.18),(2.058,0.18),(2.070,0.17),(2.080,0.175),(2.092,0.17),(2.105,0.165),(2.120,0.16),(2.137,0.16),
(2.150,0.155),(2.165,0.155),(2.182,0.155),(2.200,0.15),(2.222,0.14),(2.240,0.135),(2.261,0.13),(2.280,0.125),
(2.306,0.12),(2.330,0.12),(2.350,0.12),(2.363,0.12)]

series = [j0047, j0103, j0915, j0205, j1416, sdl7, j0532]
names = ['J0047', 'J0103', 'J0915', 'J0205', 'J1416', '', 'J0532']
types = ['(red dL7.5)', '(red dL7)', '(dL7)', '(blue dL7)', '(d/sdL7)', '(sdL7)', '(esdL7)']
colors = ['#ff1a1a', '#c43cc4', '#c4c400', '#109010', '#1cc4c4', '#000000', '#1030ff']

x_ticks = [1.0, 1.5, 2.0, 2.5]
x_ticklabels = ['1.0', '1.5', '2.0', '2.5']
y_ticks = [0, 1, 2]
y_ticklabels = ['0', '1', '2']

# ---------------- figure ----------------
W, H = 1187, 997
fig = plt.figure(figsize=(W / 100, H / 100), dpi=100)
fig.patch.set_facecolor('#efe3c3')
panel = FancyBboxPatch((8 / W, 1 - 993 / H), 1.05, (993 - 5) / H,
                       boxstyle='round,pad=0,rounding_size=0.006',
                       transform=fig.transFigure, fc='white', ec='none', zorder=0)
fig.add_artist(panel)

ax = fig.add_axes([104 / W, 1 - 881 / H, (1167 - 104) / W, (881 - 25) / H])
ax.set_xlim(0.7, 2.5)
ax.set_ylim(-0.1, 2.6)

for s, c in zip(series, colors):
    wl, fx = zip(*s)
    lw = 1.4 if c == '#1030ff' else 1.1
    ax.plot(wl, fx, color=c, lw=lw, solid_joinstyle='round')

ax.axhline(0, color='k', lw=1.3, ls=(0, (0.9, 5.0)), dash_capstyle='round', zorder=1)

# ticks
ax.xaxis.set_major_locator(FixedLocator(x_ticks))
ax.xaxis.set_major_formatter(FixedFormatter(x_ticklabels))
ax.xaxis.set_minor_locator(MultipleLocator(0.1))
ax.yaxis.set_major_locator(FixedLocator(y_ticks))
ax.yaxis.set_major_formatter(FixedFormatter(y_ticklabels))
ax.yaxis.set_minor_locator(MultipleLocator(0.2))
ax.tick_params(which='both', direction='in', top=True, right=True, width=1.0, colors='#111111')
ax.tick_params(which='major', length=8)
ax.tick_params(which='minor', length=4.5)
ax.tick_params(axis='x', which='major', labelsize=21.5, pad=4)
ax.tick_params(axis='y', which='major', labelsize=21.5, pad=9)
for sp in ax.spines.values():
    sp.set_linewidth(1.6)

ax.set_xlabel(r'Wavelength ($\mu$m)', fontsize=24, va='center')
ax.xaxis.set_label_coords(0.5, (881 - 940) / 856)
ax.set_ylabel(r'Normalized flux (F$_\lambda$)', fontsize=24, va='center')
ax.yaxis.set_label_coords((44 - 104) / 1063, (881 - 440) / 856)

# ---------------- feature annotations ----------------
ac = '#333333'
alw = 1.1
afs = 12.5

def bracket(x0, x1, y, drop, left=True, right=True):
    ax.plot([x0, x1], [y, y], color=ac, lw=alw)
    if left:
        ax.plot([x0, x0], [y, y - drop], color=ac, lw=alw)
    if right:
        ax.plot([x1, x1], [y, y - drop], color=ac, lw=alw)

# CIA H2 line
ax.plot([1.15, 1.776], [2.506, 2.506], color=ac, lw=alw)
ax.plot([1.92, 2.5], [2.506, 2.506], color=ac, lw=alw)
ax.text(1.846, 2.506, r'CIA H$_2$', fontsize=afs, ha='center', va='center', color=ac)

bracket(1.71, 2.079, 2.30, 0.05)
ax.text(1.878, 2.36, r'H$_2$O', fontsize=afs, ha='center', va='center', color=ac)

bracket(2.197, 2.321, 2.10, 0.05, right=False)
ax.text(2.243, 2.165, r'CH$_4$', fontsize=afs, ha='center', va='center', color=ac)

bracket(2.299, 2.399, 2.00, 0.05, right=False)
ax.text(2.336, 2.06, 'CO', fontsize=afs, ha='center', va='center', color=ac)

bracket(1.33, 1.53, 1.705, 0.052)
ax.text(1.428, 1.748, r'H$_2$O', fontsize=afs, ha='center', va='center', color=ac)

bracket(1.189, 1.311, 1.705, 0.052)
ax.text(1.247, 1.752, 'FeH', fontsize=afs, ha='center', va='center', color=ac)

bracket(1.092, 1.229, 1.505, 0.053)
ax.text(1.147, 1.548, r'H$_2$O', fontsize=afs, ha='center', va='center', color=ac)

bracket(0.984, 1.025, 0.948, 0.05, right=False)
ax.text(0.985, 1.0, 'FeH', fontsize=afs, ha='center', va='center', color=ac)

bracket(0.858, 0.901, 0.503, 0.053, right=False)
ax.text(0.838, 0.566, 'CrH, FeH', fontsize=afs, ha='center', va='center', color=ac)

# K I doublets
ax.plot([1.169, 1.169, 1.180, 1.180], [0.45, 0.403, 0.403, 0.45], color=ac, lw=alw)
ax.text(1.168, 0.34, 'K I', fontsize=afs, ha='center', va='center', color=ac)
ax.plot([1.239, 1.239, 1.252, 1.252], [0.598, 0.55, 0.55, 0.598], color=ac, lw=alw)
ax.text(1.249, 0.47, 'K I', fontsize=afs, ha='center', va='center', color=ac)

# ---------------- legend (coloured text) ----------------
row_y = [77, 108, 140, 171, 203, 236, 267]
for nm, tp, c, yy in zip(names, types, colors, row_y):
    if nm:
        fig.text(131 / W, 1 - yy / H, nm, fontsize=22.5, color=c, ha='left', va='center')
    fig.text(212 / W, 1 - yy / H, tp, fontsize=22, color=c, ha='left', va='center')

fig.text(1037 / W, 1 - 959 / H, '\u00a92012 Zen', fontsize=20.5, color='black',
         family=['Liberation Sans', 'DejaVu Sans'], ha='left', va='center')

fig.savefig('out.png', dpi=100, facecolor=fig.get_facecolor())
